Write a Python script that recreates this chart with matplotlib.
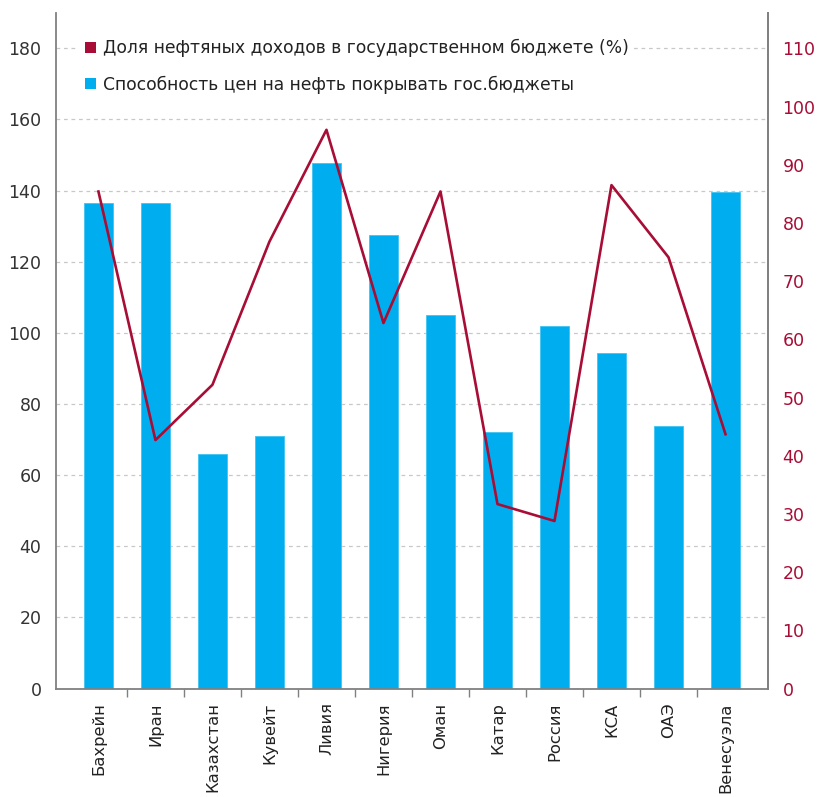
import numpy as np
import matplotlib.pyplot as plt
from matplotlib.patches import Patch

# Data
countries = ["Бахрейн", "Иран", "Казахстан", "Кувейт", "Ливия", "Нигерия",
             "Оман", "Катар", "Россия", "КСА", "ОАЭ", "Венесуэла"]
coverage = [136.6, 136.6, 66.0, 71.1, 147.7, 127.4, 105.0, 72.0, 102.0, 94.3, 73.7, 139.7]
oil_share = [85.4, 42.7, 52.2, 76.8, 96.0, 62.8, 85.4, 31.7, 28.8, 86.5, 74.1, 43.7]
left_ticks = [0, 20, 40, 60, 80, 100, 120, 140, 160, 180]
right_ticks = [0, 10, 20, 30, 40, 50, 60, 70, 80, 90, 100, 110]

label_line = "Доля нефтяных доходов в государственном бюджете (%)"
label_bar = "Способность цен на нефть покрывать гос.бюджеты"

bar_color = "#00AEEF"
line_color = "#A80D35"
axis_gray = "#808080"
fs = 12.5

plt.rcParams["font.family"] = ["DejaVu Sans"]

fig = plt.figure(figsize=(8.17, 7.97), dpi=100)
ax = fig.add_axes([0.0685, 0.136, 0.8715, 0.848])
x = np.arange(len(countries))

ax.bar(x, coverage, width=0.5, color=bar_color, edgecolor="#3FC4F4",
       linewidth=0.6, zorder=2)
ax.set_ylim(0, 190)
ax.set_xlim(-0.745, len(countries) - 1 + 0.745)
ax.set_yticks(left_ticks)
ax.yaxis.grid(True, color="#c8c8c8", linestyle=(0, (3, 3)), linewidth=0.9, zorder=0)
ax.set_axisbelow(True)
ax.tick_params(axis="y", length=0, pad=10.5, labelsize=fs, labelcolor="#333333")

ax.set_xticks(x)
ax.set_xticklabels(countries, rotation=90, fontsize=11.8, color="#222222")
ax.set_xticks(np.arange(0.5, len(countries) - 1, 1), minor=True)
ax.tick_params(axis="x", which="major", length=0, pad=10)
ax.tick_params(axis="x", which="minor", length=6, width=1, color=axis_gray)

for side in ["left", "bottom", "right"]:
    ax.spines[side].set_color(axis_gray)
    ax.spines[side].set_linewidth(1.3)
ax.spines["top"].set_visible(False)

ax2 = ax.twinx()
ax2.plot(x, oil_share, color=line_color, linewidth=1.9, zorder=3)
ax2.set_ylim(0, 190 * 110 / 180)
ax2.set_yticks(right_ticks)
ax2.tick_params(axis="y", length=0, pad=10.5, labelsize=fs, labelcolor=line_color)
for side in ["left", "top", "bottom"]:
    ax2.spines[side].set_visible(False)
ax2.spines["right"].set_color(axis_gray)
ax2.spines["right"].set_linewidth(1.3)

handles = [Patch(facecolor=line_color, edgecolor="none"),
           Patch(facecolor=bar_color, edgecolor="none")]
leg = ax2.legend(handles, [label_line, label_bar], loc="upper left",
                 bbox_to_anchor=(0.021, 0.981), fontsize=12.3, frameon=True,
                 facecolor="white", edgecolor="none", framealpha=1,
                 handlelength=0.65, handleheight=0.65, handletextpad=0.45,
                 labelspacing=1.05, borderpad=0.3, labelcolor="#222222")

fig.savefig("out.png", dpi=100)
